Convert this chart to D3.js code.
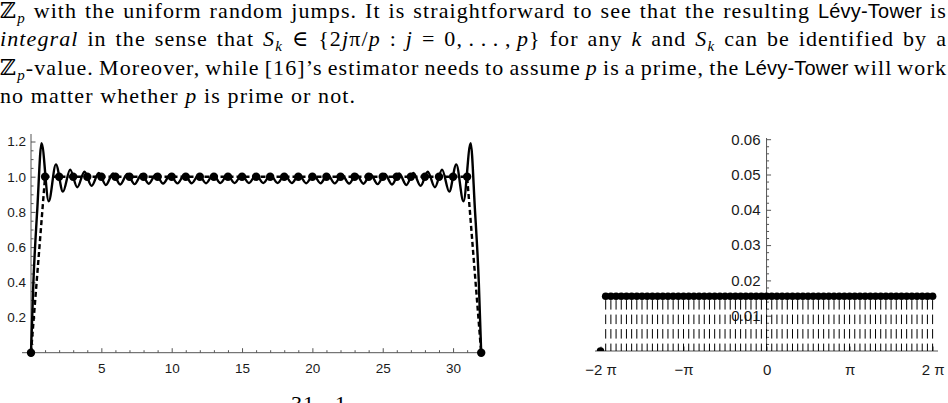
<!DOCTYPE html>
<html>
<head>
<meta charset="utf-8">
<script src="https://cdn.jsdelivr.net/npm/d3@7"></script>
<style>
body { margin: 0; background: #fff; }
svg { display: block; }
.para { font-family: "Liberation Serif", "DejaVu Serif", serif; font-size: 22px; fill: #000; letter-spacing: 1.1px; }
.tick text { font-family: "Liberation Sans", Arial, sans-serif; fill: #1a1a1a; }
.tick line { stroke: #555; }
</style>
</head>
<body>
<div id="chart-area"></div>
<script>
// left plot: sample points and the oscillating interpolant
var leftX = [0, 1, 2, 3, 4, 5, 6, 7, 8, 9, 10, 11, 12, 13, 14, 15, 16, 17, 18, 19, 20, 21, 22, 23, 24, 25, 26, 27, 28, 29, 30, 31, 32];
var leftY = [0, 1, 1, 1, 1, 1, 1, 1, 1, 1, 1, 1, 1, 1, 1, 1, 1, 1, 1, 1, 1, 1, 1, 1, 1, 1, 1, 1, 1, 1, 1, 1, 0];

var waveX = [0, 0.17, 0.45, 0.75, 1.26, 1.77, 2.27, 2.78, 3.29, 3.80, 4.31, 4.82, 5.32, 5.83, 6.34, 6.85, 7.36, 7.87,
  8.37, 8.88, 9.39, 9.90, 10.41, 10.92, 11.42, 11.93, 12.44, 12.95, 13.46, 13.97, 14.47, 14.98, 15.49, 16.00,
  16.51, 17.02, 17.53, 18.03, 18.54, 19.05, 19.56, 20.07, 20.58, 21.08, 21.59, 22.10, 22.61, 23.12, 23.63, 24.13,
  24.64, 25.15, 25.66, 26.17, 26.68, 27.18, 27.69, 28.20, 28.71, 29.22, 29.73, 30.23, 30.74, 31.25, 31.55, 31.83, 32];
var waveY = [0, 0.4, 0.82, 1.19, 0.86, 1.07, 0.915, 1.04, 0.94, 1.028, 0.948, 1.022, 0.953, 1.018, 0.956, 1.016, 0.958,
  1.014, 0.96, 1.013, 0.961, 1.012, 0.962, 1.012, 0.963, 1.011, 0.963, 1.011, 0.964, 1.01, 0.964, 1.01, 0.964, 1.01,
  0.964, 1.01, 0.964, 1.01, 0.964, 1.011, 0.963, 1.011, 0.963, 1.012, 0.962, 1.012, 0.961, 1.013, 0.96, 1.014,
  0.958, 1.016, 0.956, 1.018, 0.953, 1.022, 0.948, 1.028, 0.94, 1.04, 0.915, 1.07, 0.86, 1.19, 0.82, 0.4, 0];

var leftXTicks = [5, 10, 15, 20, 25, 30];
var leftYTicks = [0.2, 0.4, 0.6, 0.8, 1.0, 1.2];

// right plot: angle in steps of pi/16, probability at each step
var rightK = [-32, -31, -30, -29, -28, -27, -26, -25, -24, -23, -22, -21, -20, -19, -18, -17, -16, -15, -14, -13, -12,
  -11, -10, -9, -8, -7, -6, -5, -4, -3, -2, -1, 0, 1, 2, 3, 4, 5, 6, 7, 8, 9, 10, 11, 12, 13, 14, 15, 16, 17, 18, 19,
  20, 21, 22, 23, 24, 25, 26, 27, 28, 29, 30, 31, 32];
var rightP = [0, 0.0155, 0.0155, 0.0155, 0.0155, 0.0155, 0.0155, 0.0155, 0.0155, 0.0155, 0.0155, 0.0155, 0.0155,
  0.0155, 0.0155, 0.0155, 0.0155, 0.0155, 0.0155, 0.0155, 0.0155, 0.0155, 0.0155, 0.0155, 0.0155, 0.0155, 0.0155,
  0.0155, 0.0155, 0.0155, 0.0155, 0.0155, 0.0155, 0.0155, 0.0155, 0.0155, 0.0155, 0.0155, 0.0155, 0.0155, 0.0155,
  0.0155, 0.0155, 0.0155, 0.0155, 0.0155, 0.0155, 0.0155, 0.0155, 0.0155, 0.0155, 0.0155, 0.0155, 0.0155, 0.0155,
  0.0155, 0.0155, 0.0155, 0.0155, 0.0155, 0.0155, 0.0155, 0.0155, 0.0155, 0.0155];

var rightXTicks = [-2, -1, 0, 1, 2];
var rightXLabels = ["\u22122 \u03c0", "\u2212\u03c0", "0", "\u03c0", "2 \u03c0"];
var rightYTicks = [0.01, 0.02, 0.03, 0.04, 0.05, 0.06];

// paragraph above the figure: [text, style]
var paraLines = [
  [["\u2124", "n"], ["p", "sub"], [" with the uniform random jumps. It is straightforward to see that the resulting ", "n"], ["L\u00e9vy-Tower", "s"], [" is", "n"]],
  [["integral", "i"], [" in the sense that ", "n"], ["S", "i"], ["k", "sub"], [" \u2208 {2", "n"], ["j", "i"], ["\u03c0/", "n"], ["p", "i"], [" : ", "n"], ["j", "i"], [" = 0,\u2009.\u2009.\u2009.\u2009,\u2009", "n"], ["p", "i"], ["} for any ", "n"], ["k", "i"], [" and ", "n"], ["S", "i"], ["k", "sub"], [" can be identified by a", "n"]],
  [["\u2124", "n"], ["p", "sub"], ["-value. Moreover, while [16]\u2019s estimator needs to assume ", "n"], ["p", "i"], [" is a prime, the ", "n"], ["L\u00e9vy-Tower", "s"], [" will work", "n"]],
  [["no matter whether ", "n"], ["p", "i"], [" is prime or not.", "n"]]
];
var paraJustify = [true, true, true, false];

var W = 948, H = 403;

var svg = d3.select("#chart-area")
  .append("svg")
  .attr("width", W)
  .attr("height", H);

svg.append("rect").attr("width", W).attr("height", H).attr("fill", "#fff");

// ---- paragraph ----
paraLines.forEach(function(line, i) {
  var t = svg.append("text")
    .attr("class", "para")
    .attr("x", 0)
    .attr("y", 18 + i * 28.4);
  var shifted = false;
  line.forEach(function(seg) {
    var ts = t.append("tspan").text(seg[0]);
    if (seg[1] === "sub") {
      ts.attr("font-style", "italic").attr("font-size", "15px");
    } else if (seg[1] === "i") {
      ts.attr("font-style", "italic");
    } else if (seg[1] === "s") {
      ts.attr("font-family", "'Liberation Sans', Arial, sans-serif").attr("font-size", "20px").style("letter-spacing", "0.2px");
    }
    if (seg[1] === "sub" && !shifted) { ts.attr("dy", 5); shifted = true; }
    else if (seg[1] !== "sub" && shifted) { ts.attr("dy", -5); shifted = false; }
  });
  if (paraJustify[i]) {
    var natural = t.node().getComputedTextLength();
    var spaces = line.map(function(s) { return s[0]; }).join("").split(" ").length - 1;
    t.attr("word-spacing", ((W - 1 - natural) / spaces) + "px");
  }
});

// caption fragments cut off at the bottom edge
svg.append("text").attr("class", "para").attr("x", 291).attr("y", 411).attr("font-size", "14px").text("31");
svg.append("text").attr("class", "para").attr("x", 335).attr("y", 411).attr("font-size", "14px").text("1");

// ---- left plot ----
var lx = d3.scaleLinear().domain([0, 32]).range([31, 481.2]);
var ly = d3.scaleLinear().domain([0, 1.2]).range([352.7, 141.5]);

var left = svg.append("g");

left.append("line").attr("x1", 22).attr("x2", 483).attr("y1", ly(0)).attr("y2", ly(0)).attr("stroke", "#555");
left.append("line").attr("x1", lx(0)).attr("x2", lx(0)).attr("y1", 134).attr("y2", 357).attr("stroke", "#555");

var lxMinor = d3.range(1, 33).filter(function(d) { return d % 5 !== 0; });
left.append("g").attr("transform", "translate(0," + ly(0) + ")")
  .call(d3.axisBottom(lx).tickValues(lxMinor).tickSize(-2.5).tickFormat(""))
  .call(function(g) { g.select(".domain").remove(); });
left.append("g").attr("transform", "translate(0," + ly(0) + ")")
  .call(d3.axisBottom(lx).tickValues(leftXTicks).tickSize(-4.5).tickPadding(10.5))
  .call(function(g) { g.select(".domain").remove(); g.selectAll("text").style("font-size", "13.5px"); });

var lyMinor = d3.range(1, 25).map(function(d) { return d * 0.05; }).filter(function(d, i) { return (i + 1) % 4 !== 0; });
left.append("g").attr("transform", "translate(" + lx(0) + ",0)")
  .call(d3.axisLeft(ly).tickValues(lyMinor).tickSize(-2.5).tickFormat(""))
  .call(function(g) { g.select(".domain").remove(); });
left.append("g").attr("transform", "translate(" + lx(0) + ",0)")
  .call(d3.axisLeft(ly).tickValues(leftYTicks).tickSize(-4.5).tickPadding(5).tickFormat(d3.format(".1f")))
  .call(function(g) { g.select(".domain").remove(); g.selectAll("text").style("font-size", "13.5px"); });

var pts = leftX.map(function(x, i) { return [x, leftY[i]]; });
var wave = waveX.map(function(x, i) { return [x, waveY[i]]; });

left.append("path")
  .datum(pts)
  .attr("fill", "none")
  .attr("stroke", "#000")
  .attr("stroke-width", 2.4)
  .attr("stroke-dasharray", "5,3")
  .attr("d", d3.line().x(function(d) { return lx(d[0]); }).y(function(d) { return ly(d[1]); }));

left.append("path")
  .datum(wave)
  .attr("fill", "none")
  .attr("stroke", "#000")
  .attr("stroke-width", 2.4)
  .attr("d", d3.line().curve(d3.curveMonotoneX).x(function(d) { return lx(d[0]); }).y(function(d) { return ly(d[1]); }));

left.selectAll(".dot")
  .data(pts)
  .enter()
  .append("circle")
  .attr("class", "dot")
  .attr("cx", function(d) { return lx(d[0]); })
  .attr("cy", function(d) { return ly(d[1]); })
  .attr("r", 4.2)
  .attr("fill", "#000");

// ---- right plot ----
var rx = d3.scaleLinear().domain([-2 * Math.PI, 2 * Math.PI]).range([600.5, 932.6]);
var ry = d3.scaleLinear().domain([0, 0.06]).range([351, 139.2]);

var right = svg.append("g");

right.append("line").attr("x1", 595).attr("x2", 938).attr("y1", ry(0)).attr("y2", ry(0)).attr("stroke", "#555");
right.append("line").attr("x1", rx(0)).attr("x2", rx(0)).attr("y1", 138).attr("y2", ry(0)).attr("stroke", "#555");

right.append("g").attr("transform", "translate(0," + ry(0) + ")")
  .call(d3.axisBottom(rx).tickValues(rightXTicks.map(function(d) { return d * Math.PI; }))
    .tickSize(-4.5).tickPadding(13.6)
    .tickFormat(function(d, i) { return rightXLabels[i]; }))
  .call(function(g) { g.select(".domain").remove(); g.selectAll("text").style("font-size", "15px"); });

var ryMinor = d3.range(1, 31).map(function(d) { return d * 0.002; }).filter(function(d, i) { return (i + 1) % 5 !== 0; });
right.append("g").attr("transform", "translate(" + rx(0) + ",0)")
  .call(d3.axisLeft(ry).tickValues(ryMinor).tickSize(-2.5).tickFormat(""))
  .call(function(g) { g.select(".domain").remove(); });
right.append("g").attr("transform", "translate(" + rx(0) + ",0)")
  .call(d3.axisLeft(ry).tickValues(rightYTicks).tickSize(-4.5).tickPadding(6).tickFormat(d3.format(".2f")))
  .call(function(g) { g.select(".domain").remove(); g.selectAll("text").style("font-size", "15px"); });

svg.append("clipPath").attr("id", "rclip")
  .append("rect").attr("x", 590).attr("y", 130).attr("width", 355).attr("height", ry(0) - 130);

var rpts = rightK.map(function(k, i) { return [k * Math.PI / 16, rightP[i]]; });

var marks = right.append("g").attr("clip-path", "url(#rclip)");

marks.selectAll(".stem")
  .data(rpts.filter(function(d) { return d[1] > 0; }))
  .enter()
  .append("line")
  .attr("class", "stem")
  .attr("x1", function(d) { return rx(d[0]); })
  .attr("x2", function(d) { return rx(d[0]); })
  .attr("y1", function(d) { return ry(d[1]); })
  .attr("y2", ry(0))
  .attr("stroke", "#000")
  .attr("stroke-width", 1)
  .attr("stroke-dasharray", "9.5,5")
  .attr("stroke-dashoffset", 10.7);

marks.selectAll(".rdot")
  .data(rpts)
  .enter()
  .append("circle")
  .attr("class", "rdot")
  .attr("cx", function(d) { return rx(d[0]); })
  .attr("cy", function(d) { return ry(d[1]); })
  .attr("r", 3.8)
  .attr("fill", "#000");
</script>
</body>
</html>
